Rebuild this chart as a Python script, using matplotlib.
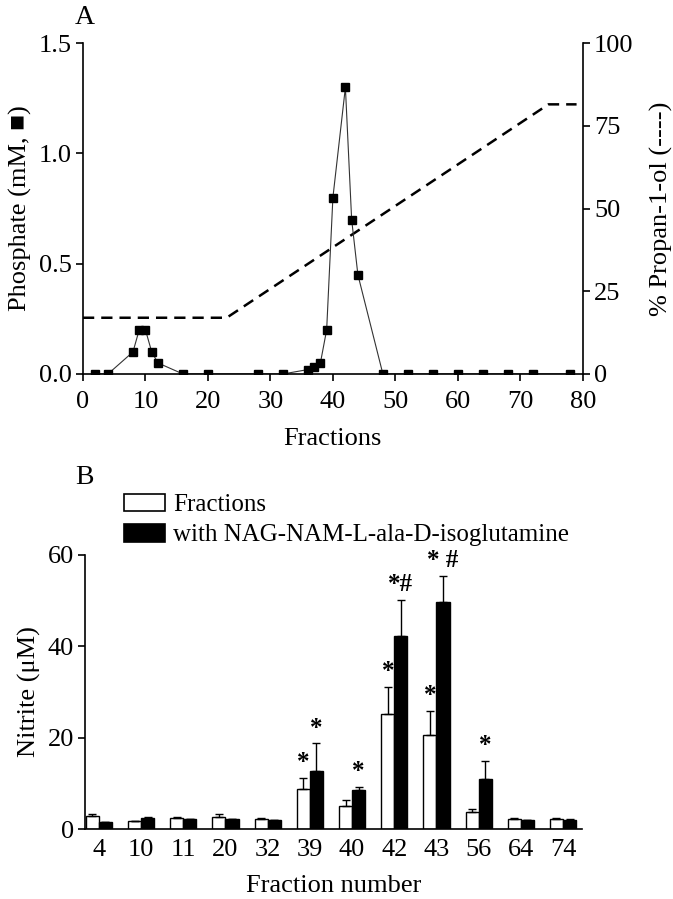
import matplotlib
matplotlib.use("Agg")
import matplotlib.pyplot as plt
import numpy as np
from matplotlib.patches import Patch

plt.rcParams['font.family'] = ['Liberation Serif', 'DejaVu Sans']
plt.rcParams['font.size'] = 19

# ---- panel A data
fractions = [2, 4, 8, 9, 10, 11, 12, 16, 20, 28, 32, 36, 37, 38, 39, 40, 42, 43, 44, 48,
             52, 56, 60, 64, 68, 72, 78]
phosphate = [0, 0, 0.1, 0.2, 0.2, 0.1, 0.05, 0, 0, 0, 0, 0.02, 0.03, 0.05, 0.2, 0.8, 1.3, 0.7, 0.45, 0,
             0, 0, 0, 0, 0, 0, 0]
grad_x = [0, 23, 74.5, 79]
grad_pct = [17, 17, 81.5, 81.5]

# ---- panel B data
frac_labels = ['4', '10', '11', '20', '32', '39', '40', '42', '43', '56', '64', '74']
nitrite = [3.0, 1.8, 2.4, 2.8, 2.3, 8.8, 5.0, 25.2, 20.6, 3.8, 2.3, 2.3]
nitrite_err = [0.4, 0.1, 0.2, 0.5, 0.1, 2.4, 1.4, 6.0, 5.3, 0.6, 0.1, 0.1]
nitrite_nag = [1.6, 2.5, 2.2, 2.2, 2.0, 12.8, 8.7, 42.3, 49.7, 11.0, 2.0, 2.1]
nitrite_nag_err = [0.1, 0.1, 0.1, 0.1, 0.1, 6.0, 0.6, 7.8, 5.7, 4.0, 0.1, 0.1]
marks_white = ['', '', '', '', '', '*', '', '*', '*', '', '', '']
marks_black = ['', '', '', '', '', '*', '*', '*#', '* #', '*', '', '']

fig = plt.figure(figsize=(6.73, 8.99), dpi=100)

# ------------------------------- panel A
ax = fig.add_axes([0.1233, 0.584, 0.7427, 0.368])
ax.plot(fractions, phosphate, color='#333333', lw=0.8, marker='s', ms=6,
        mfc='black', mec='black')
ax.set_xlim(0, 80)
ax.set_ylim(0, 1.5)
ax.set_xticks(range(0, 81, 10))
ax.set_yticks([0, 0.5, 1.0, 1.5])
ax.set_yticklabels(['0.0', '0.5', '1.0', '1.5'])
ax.set_xlabel('Fractions', labelpad=11)
ax.set_ylabel('Phosphate (mM, \u25A0)', labelpad=5)
ax.spines['top'].set_visible(False)
ax.spines['right'].set_visible(False)
for s in ax.spines.values():
    s.set_linewidth(1.2)
ax.tick_params(direction='out', length=5, width=1.2, pad=3)
ax.tick_params(axis='x', pad=7)

ax2 = ax.twinx()
ax2.plot(grad_x, grad_pct, color='black', lw=1.8, ls=(0, (4.5, 2.8)))
ax2.set_ylim(0, 100)
ax2.set_yticks([0, 25, 50, 75, 100])
ax2.set_ylabel('% Propan-1-ol (----)', labelpad=12)
ax2.spines['top'].set_visible(False)
ax2.spines['left'].set_visible(False)
ax2.spines['bottom'].set_visible(False)
ax2.spines['right'].set_linewidth(1.2)
ax2.tick_params(direction='out', length=5, width=1.2, pad=3)
ax2.set_xlim(0, 80)
ax.set_zorder(ax2.get_zorder() + 1)
ax.patch.set_visible(False)

fig.text(75 / 673, 1 - 17 / 899, 'A', fontsize=20, va='center', ha='left')

# ------------------------------- panel B
bx = fig.add_axes([0.1263, 0.0775, 0.7385, 0.3055])
x = np.arange(len(frac_labels))
w = 0.31
bx.bar(x - w / 2, nitrite, w, color='white', edgecolor='black', lw=1.0,
       yerr=[np.zeros(len(x)), nitrite_err], capsize=3, error_kw=dict(lw=1.0, capthick=1.0))
bx.bar(x + w / 2, nitrite_nag, w, color='black', edgecolor='black', lw=1.0,
       yerr=[np.zeros(len(x)), nitrite_nag_err], capsize=3, error_kw=dict(lw=1.0, capthick=1.0))
for i in range(len(x)):
    if marks_white[i]:
        bx.text(x[i] - w / 2, nitrite[i] + nitrite_err[i] + 0.8, marks_white[i],
                ha='center', va='bottom', fontsize=18, fontweight='bold')
    if marks_black[i]:
        bx.text(x[i] + w / 2, nitrite_nag[i] + nitrite_nag_err[i] + 0.8, marks_black[i],
                ha='center', va='bottom', fontsize=18, fontweight='bold')
bx.set_xlim(-0.33, 11.45)
bx.set_ylim(0, 60)
bx.set_xticks(x)
bx.set_xticklabels(frac_labels)
bx.set_yticks([0, 20, 40, 60])
bx.set_xlabel('Fraction number', labelpad=10)
bx.set_ylabel('Nitrite (\u03bcM)', labelpad=5)
bx.spines['top'].set_visible(False)
bx.spines['right'].set_visible(False)
for s in bx.spines.values():
    s.set_linewidth(1.2)
bx.tick_params(axis='y', direction='out', length=5, width=1.2, pad=3)
bx.tick_params(axis='x', length=0, pad=7)

handles = [Patch(facecolor='white', edgecolor='black', lw=1.2),
           Patch(facecolor='black', edgecolor='black', lw=1.2)]
fig.legend(handles, ['Fractions', 'with NAG-NAM-L-ala-D-isoglutamine'],
           loc='upper left', bbox_to_anchor=(114 / 673, 1 - 484 / 899),
           frameon=False, handlelength=1.65, handleheight=0.7, handletextpad=0.3,
           labelspacing=0.3, borderaxespad=0, fontsize=18)

fig.text(75 / 673, 1 - 478 / 899, 'B', fontsize=20, va='center', ha='left')

fig.savefig('out.png', dpi=100)
